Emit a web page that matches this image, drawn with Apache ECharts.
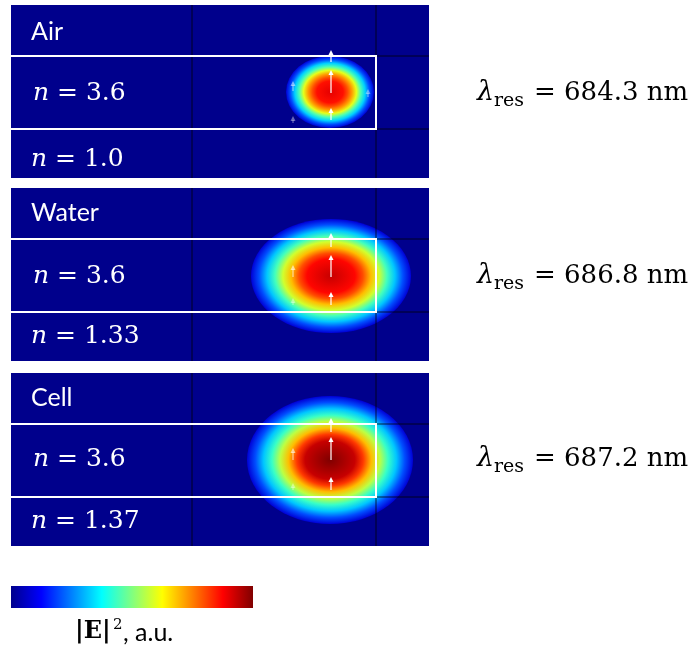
<!DOCTYPE html>
<html>
<head>
<meta charset="utf-8">
<title>Resonant mode |E|^2</title>
<script src="https://cdn.jsdelivr.net/npm/echarts@6/dist/echarts.min.js"></script>
<style>
  html, body { margin: 0; padding: 0; background: #fff; }
  #chart { width: 692px; height: 650px; }
</style>
</head>
<body>
<div id="chart"></div>
<script>
// media around the slab
const panelNames = ['Air', 'Water', 'Cell']
const coreIndex = ['3.6', '3.6', '3.6']
const claddingIndex = ['1.0', '1.33', '1.37']
const resonanceNm = ['684.3', '686.8', '687.2']

// field spot, panel units (x from left edge, y from top edge)
const fieldCenterX = [319, 320, 319]
const fieldCenterY = [87, 88, 87]
const fieldRadiusX = [44, 80, 83]
const fieldRadiusY = [36, 57, 64]

// |E|^2 along the spot radius (normalised radius -> value)
const profileRadius = [0, 0.3, 0.4, 0.5, 0.6, 0.7, 0.8, 0.9, 1]
const profileAir = [0.9, 0.86, 0.8, 0.72, 0.6, 0.45, 0.33, 0.2, 0.08]
const profileWater = [0.93, 0.87, 0.8, 0.69, 0.58, 0.44, 0.32, 0.2, 0.08]
const profileCell = [1.0, 0.93, 0.82, 0.69, 0.56, 0.43, 0.32, 0.2, 0.08]

// slab and mesh
const slabTop = 51
const slabBottom = 124
const slabRight = 365
const meshLinesX = [181, 365]
const meshLinesY = [51, 124]

// field arrows: [x, tail y, head y, opacity]
const arrowsAir = [[320, 57, 45, 1], [320, 88, 65, 1], [320, 115, 103, 1], [282, 86, 76, 0.5], [282, 118, 111, 0.4], [357, 92, 84, 0.4]]
const arrowsWater = [[320, 59, 45, 1], [320, 89, 67, 1], [320, 117, 104, 1], [282, 89, 77, 0.6], [282, 117, 110, 0.4]]
const arrowsCell = [[320, 59, 45, 1], [320, 87, 64, 1], [320, 117, 104, 1], [282, 87, 75, 0.6], [282, 117, 110, 0.4]]

const jetColors = ['#00008c', '#0000ff', '#0080ff', '#00ffff', '#80ff80', '#ffff00', '#ff8000', '#ff0000', '#800000']
const panelTop = [5, 188, 373]
const panelW = 418
const panelH = 173
const profiles = [profileAir, profileWater, profileCell]
const arrows = [arrowsAir, arrowsWater, arrowsCell]

// label centres in px
const titleY = [33, 214, 399]
const coreY = [93, 276, 459]
const cladY = [159, 336, 521]

const myChart = echarts.init(document.getElementById('chart'))

function jet(v) {
  return echarts.color.lerp(v, jetColors)
}

function fieldRenderer(profile) {
  const stops = profileRadius.map((r, k) => ({ offset: r, color: jet(profile[k]) }))
  return function (params, api) {
    const c = api.coord([api.value(0), api.value(1)])
    const s = api.size([api.value(2), api.value(3)])
    const rx = Math.abs(s[0])
    const ry = Math.abs(s[1])
    return {
      type: 'circle',
      x: c[0],
      y: c[1],
      scaleX: rx / ry,
      scaleY: 1,
      shape: { cx: 0, cy: 0, r: ry },
      style: { fill: new echarts.graphic.RadialGradient(0.5, 0.5, 0.5, stops) }
    }
  }
}

function meshRenderer(params, api) {
  const a = api.coord([api.value(0), api.value(1)])
  const b = api.coord([api.value(2), api.value(3)])
  return {
    type: 'line',
    shape: { x1: a[0], y1: a[1], x2: b[0], y2: b[1] },
    style: { stroke: '#000', lineWidth: 1, opacity: 0.75 }
  }
}

function slabRenderer(params, api) {
  const r = api.value(0)
  const pts = [[0, api.value(1)], [r, api.value(1)], [r, api.value(2)], [0, api.value(2)]].map(p => api.coord(p))
  return {
    type: 'polyline',
    shape: { points: pts },
    style: { stroke: '#fff', lineWidth: 2, fill: null }
  }
}

function arrowRenderer(params, api) {
  const tail = api.coord([api.value(0), api.value(1)])
  const head = api.coord([api.value(0), api.value(2)])
  const op = api.value(3)
  const dir = head[1] < tail[1] ? 1 : -1
  return {
    type: 'group',
    children: [
      {
        type: 'line',
        shape: { x1: tail[0], y1: tail[1], x2: head[0], y2: head[1] + dir * 4 },
        style: { stroke: '#fff', lineWidth: 1.2, opacity: op }
      },
      {
        type: 'polygon',
        shape: { points: [[head[0], head[1]], [head[0] - 2.5, head[1] + dir * 5], [head[0] + 2.5, head[1] + dir * 5]] },
        style: { fill: '#fff', opacity: op }
      }
    ]
  }
}

const grids = []
const xAxes = []
const yAxes = []
const series = []
const texts = []

panelNames.forEach((name, i) => {
  grids.push({ left: 11, top: panelTop[i], width: panelW, height: panelH, show: true, backgroundColor: jetColors[0], borderWidth: 0 })
  xAxes.push({ gridIndex: i, type: 'value', min: 0, max: panelW, show: false })
  yAxes.push({ gridIndex: i, type: 'value', min: 0, max: panelH, inverse: true, show: false })

  // 场分布
  series.push({
    type: 'custom', xAxisIndex: i, yAxisIndex: i, clip: true, silent: true,
    renderItem: fieldRenderer(profiles[i]),
    data: [[fieldCenterX[i], fieldCenterY[i], fieldRadiusX[i], fieldRadiusY[i]]]
  })
  const mesh = []
  meshLinesX.forEach(x => mesh.push([x, 0, x, panelH]))
  meshLinesY.forEach(y => mesh.push([0, y, panelW, y]))
  series.push({
    type: 'custom', xAxisIndex: i, yAxisIndex: i, clip: true, silent: true,
    renderItem: meshRenderer, data: mesh
  })
  series.push({
    type: 'custom', xAxisIndex: i, yAxisIndex: i, clip: true, silent: true,
    renderItem: slabRenderer, data: [[slabRight, slabTop, slabBottom]]
  })
  series.push({
    type: 'custom', xAxisIndex: i, yAxisIndex: i, clip: true, silent: true,
    renderItem: arrowRenderer, data: arrows[i]
  })

  // labels
  texts.push({
    type: 'text', left: 31, top: titleY[i] - 14,
    style: { text: name, fill: '#fff', font: '25px Lato', textVerticalAlign: 'top' }
  })
  const mathRich = {
    i: { fontFamily: 'DejaVu Serif', fontStyle: 'italic', fontSize: 25, fill: '#fff' },
    r: { fontFamily: 'DejaVu Serif', fontSize: 25, fill: '#fff' }
  }
  texts.push({
    type: 'text', x: 33, y: coreY[i],
    style: { text: '{i|n}{r| = ' + coreIndex[i] + '}', rich: mathRich, verticalAlign: 'middle' }
  })
  texts.push({
    type: 'text', x: 31, y: cladY[i],
    style: { text: '{i|n}{r| = ' + claddingIndex[i] + '}', rich: mathRich, verticalAlign: 'middle' }
  })
  texts.push({
    type: 'text', x: 477, y: coreY[i],
    style: { text: 'λ', fill: '#000', fontFamily: 'DejaVu Serif', fontStyle: 'italic', fontSize: 27, verticalAlign: 'middle' }
  })
  texts.push({
    type: 'text', x: 494, y: coreY[i] + 8,
    style: { text: 'res', fill: '#000', fontFamily: 'DejaVu Serif', fontSize: 19, verticalAlign: 'middle' }
  })
  texts.push({
    type: 'text', x: 534, y: coreY[i],
    style: { text: '= ' + resonanceNm[i] + ' nm', fill: '#000', fontFamily: 'DejaVu Serif', fontSize: 26, verticalAlign: 'middle' }
  })
})

// colour bar
texts.push({
  type: 'rect',
  shape: { x: 11, y: 586, width: 242, height: 22 },
  style: {
    fill: new echarts.graphic.LinearGradient(0, 0, 1, 0,
      jetColors.map((c, k) => ({ offset: k / (jetColors.length - 1), color: c })))
  }
})
texts.push({
  type: 'text', x: 75, y: 632,
  style: { text: '|E|', fill: '#000', fontFamily: 'DejaVu Serif', fontWeight: 'bold', fontSize: 24, verticalAlign: 'middle' }
})
texts.push({
  type: 'text', x: 113, y: 625,
  style: { text: '2', fill: '#000', fontFamily: 'DejaVu Serif', fontSize: 15, verticalAlign: 'middle' }
})
texts.push({
  type: 'text', x: 123, y: 633,
  style: { text: ', a.u.', fill: '#000', fontFamily: 'Lato', fontSize: 25, verticalAlign: 'middle' }
})

const option = {
  animation: false,
  backgroundColor: '#fff',
  grid: grids,
  xAxis: xAxes,
  yAxis: yAxes,
  graphic: texts,
  series: series
}

myChart.setOption(option)
</script>
</body>
</html>
